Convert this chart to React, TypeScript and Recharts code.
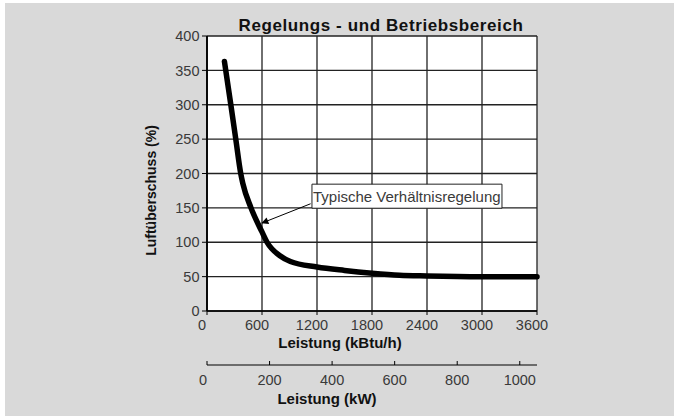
import React from "react";
import {
  LineChart,
  Line,
  XAxis,
  YAxis,
  CartesianGrid,
  ReferenceArea,
  ReferenceLine,
  Customized,
} from "recharts";

// ---- data ----
const loadKBtu = [190, 260, 314, 368, 390, 480, 600, 655, 800, 910, 1200, 1500, 1800, 2100, 2400, 3000, 3600];
const excessAir = [363, 300, 250, 200, 186, 150, 115, 100, 80, 72, 64, 59, 55, 52, 51, 50, 50];
const kBtuTicks = [0, 600, 1200, 1800, 2400, 3000, 3600];
const kWTicks = [0, 200, 400, 600, 800, 1000];
const yTicks = [0, 50, 100, 150, 200, 250, 300, 350, 400];
const KBTU_PER_KW = 3.412;

const title = "Regelungs - und Betriebsbereich";
const yLabel = "Luftüberschuss (%)";
const xLabel = "Leistung (kBtu/h)";
const x2Label = "Leistung (kW)";
const annotationText = "Typische Verhältnisregelung";
// annotation box & arrow (data coordinates)
const annoBox = { x1: 1145, x2: 3218, y1: 149.5, y2: 184.5 };
const arrowFrom = { x: 1130, y: 156 };
const arrowTo = { x: 600, y: 128 };

const data = loadKBtu.map((x, i) => ({ x, y: excessAir[i] }));
const kWTickPositions = kWTicks.map((k) => k * KBTU_PER_KW);

const FONT = "'Liberation Sans', Arial, Helvetica, sans-serif";
const TXT = "#3a3a3a";

const ArrowShape = (props: any) => {
  const { x1, y1, x2, y2 } = props;
  if ([x1, y1, x2, y2].some((v) => v == null || isNaN(v))) return null;
  return (
    <g>
      <defs>
        <marker id="arrowHead" viewBox="0 0 10 10" refX="9" refY="5" markerWidth="8" markerHeight="7" orient="auto" markerUnits="userSpaceOnUse">
          <path d="M0,0 L10,5 L0,10 z" fill="#000" />
        </marker>
      </defs>
      <line x1={x1} y1={y1} x2={x2} y2={y2} stroke="#000" strokeWidth={1} markerEnd="url(#arrowHead)" />
    </g>
  );
};

const KwTick = (props: any) => {
  const { x, y, payload } = props;
  const v = Math.round(payload.value / KBTU_PER_KW);
  return (
    <text x={v === 0 ? x - 4 : x} y={y} dy="0.71em" textAnchor="middle" fill={TXT} fontSize={14.5} fontFamily={FONT}>
      {v}
    </text>
  );
};

export default function App() {
  return (
    <div style={{ position: "absolute", left: 5, top: 3, width: 669, height: 413, background: "#d9d9d9" }}>
      <LineChart
        width={669}
        height={413}
        data={data}
        margin={{ top: 33, right: 137, bottom: 6, left: 0 }}
        style={{ fontFamily: FONT }}
      >
        <CartesianGrid xAxisId="btu" stroke="#222" strokeWidth={1.3} fill="#ffffff" fillOpacity={1} />
        <XAxis
          xAxisId="btu"
          dataKey="x"
          type="number"
          domain={[0, 3600]}
          ticks={kBtuTicks}
          interval={0}
          height={54}
          axisLine={{ stroke: "#000", strokeWidth: 1.5 }}
          tickLine={{ stroke: "#000" }}
          tickSize={4}
          tickMargin={5}
          tick={{ fill: TXT, fontSize: 14.5, fontFamily: FONT, dx: -5 }}
          label={{
            content: (p: any) => {
              const vb = p.viewBox || {};
              return (
                <text x={vb.x + vb.width / 2 - 32} y={vb.y + 37} textAnchor="middle" fontSize={15} fontWeight="bold" fill="#111" fontFamily={FONT}>
                  {xLabel}
                </text>
              );
            },
          }}
        />
        <XAxis
          xAxisId="kw"
          dataKey="x"
          type="number"
          domain={[0, 3600]}
          ticks={kWTickPositions}
          interval={0}
          height={45}
          axisLine={{ stroke: "#000", strokeWidth: 1.2 }}
          tickLine={{ stroke: "#000" }}
          tickSize={-4}
          tickMargin={14}
          tick={<KwTick />}
          label={{
            content: (p: any) => {
              const vb = p.viewBox || {};
              return (
                <text x={vb.x + vb.width / 2 - 45} y={vb.y + 39} textAnchor="middle" fontSize={15} fontWeight="bold" fill="#111" fontFamily={FONT}>
                  {x2Label}
                </text>
              );
            },
          }}
        />
        <YAxis
          dataKey="y"
          type="number"
          domain={[0, 400]}
          ticks={yTicks}
          interval={0}
          width={202}
          axisLine={{ stroke: "#000", strokeWidth: 1.8 }}
          tickLine={{ stroke: "#000" }}
          tickSize={5}
          tickMargin={2.5}
          tick={{ fill: TXT, fontSize: 14.5, fontFamily: FONT }}
          label={{
            content: (p: any) => {
              const vb = p.viewBox || {};
              const cx = vb.x + vb.width - 56;
              const cy = vb.y + vb.height / 2 + 17;
              return (
                <text x={cx} y={cy} transform={`rotate(-90, ${cx}, ${cy})`} textAnchor="middle" dominantBaseline="central" fontSize={14} fontWeight="bold" fill="#111" fontFamily={FONT}>
                  {yLabel}
                </text>
              );
            },
          }}
        />
        <Line
          xAxisId="kw"
          dataKey="y"
          type="monotone"
          stroke="transparent"
          strokeOpacity={0}
          strokeWidth={0}
          dot={false}
          activeDot={false}
          legendType="none"
          isAnimationActive={false}
        />
        <Line
          xAxisId="btu"
          dataKey="y"
          type="monotone"
          stroke="#000"
          strokeWidth={5.5}
          strokeLinecap="round"
          strokeLinejoin="round"
          dot={false}
          activeDot={false}
          isAnimationActive={false}
        />
        <ReferenceArea
          xAxisId="btu"
          x1={annoBox.x1}
          x2={annoBox.x2}
          y1={annoBox.y1}
          y2={annoBox.y2}
          fill="#fff"
          fillOpacity={1}
          stroke="#222"
          strokeWidth={1}
          label={{ value: annotationText, position: "insideLeft", offset: 1, fill: TXT, fontSize: 15, fontFamily: FONT }}
        />
        <ReferenceLine
          xAxisId="btu"
          segment={[arrowFrom, arrowTo]}
          stroke="#000"
          shape={(p: any) => <ArrowShape {...p} />}
        />
        <Customized
          component={() => (
            <text x={376} y={27.5} textAnchor="middle" fontSize={17} letterSpacing={0.6} fontWeight="bold" fill="#111" fontFamily={FONT}>
              {title}
            </text>
          )}
        />
      </LineChart>
    </div>
  );
}
